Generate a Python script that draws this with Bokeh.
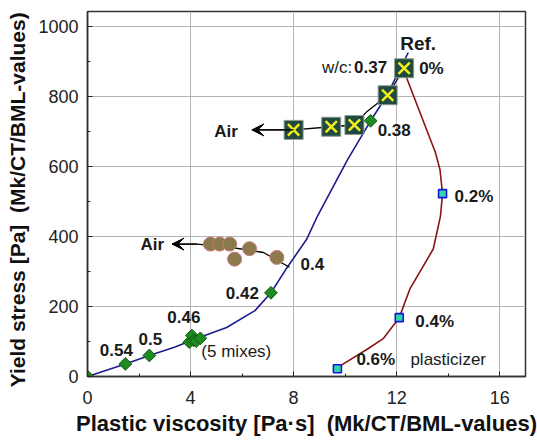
import numpy as np
from bokeh.plotting import figure
from bokeh.models import (Range1d, SingleIntervalTicker, Arrow, VeeHead, FixedTicker)
from bokeh.core.properties import value
from bokeh.embed import file_html
from bokeh.resources import INLINE

FONT = "Liberation Sans"

# ---- data ----
# w/c series (green diamonds) and blue fitted line
wc_labels = ["0", "0.54", "0.5", "0.46", "", "", "", "", "0.42", "0.38"]
wc_x = [0.0, 1.47, 2.40, 3.95, 4.05, 4.12, 4.22, 4.38, 7.12, 10.99]
wc_y = [0, 36, 60, 98, 117, 103, 101, 109, 239, 730]
blue_x = [0.0, 1.47, 2.40, 3.4, 4.1, 5.4, 6.5, 7.12, 7.7, 8.5, 8.9, 10.1, 10.99, 11.6, 12.45]
blue_y = [0, 36, 60, 84, 105, 140, 188, 239, 306, 391, 454, 620, 730, 800, 925]

# air series at w/c 0.37 (square-x markers)
air37_x = [12.29, 11.65, 10.36, 9.46, 8.0]
air37_y = [880, 803, 718, 713, 704]
air37_line_x = [12.29, 11.65, 10.84, 10.36, 9.46, 8.0, 6.38]
air37_line_y = [880, 803, 756, 718, 713, 704, 704]

# air series at w/c 0.4 (brown circles)
air40_x = [4.77, 5.13, 5.52, 5.71, 6.29, 7.35]
air40_y = [378, 378, 378, 335, 365, 340]
air40_line_x = [7.84, 6.83, 5.54, 4.25, 3.28]
air40_line_y = [312, 354, 369, 378, 378]

# plasticizer series (small squares) and red line
plast_labels = ["0.2%", "0.4%", "0.6%"]
plast_x = [13.78, 12.10, 9.70]
plast_y = [522, 168, 22]
red_x = [12.29, 12.4, 12.96, 13.5, 13.68, 13.78, 13.70, 13.42, 12.52, 12.10, 11.49, 10.9, 9.87, 9.70]
red_y = [880, 850, 743, 640, 591, 522, 458, 364, 251, 168, 109, 80, 33, 22]

x_ticks = [0, 4, 8, 12, 16]
y_ticks = [0, 200, 400, 600, 800, 1000]
x_title = "Plastic viscosity [Pa\u00b7s]\u00a0\u00a0(Mk/CT/BML-values)"
y_title = "Yield stress [Pa]\u00a0\u00a0(Mk/CT/BML-values)\u00a0\u00a0"

# ---- figure ----
p = figure(width=537, height=438, output_backend="svg", toolbar_location=None,
           x_range=Range1d(0, 17), y_range=Range1d(0, 1042),
           min_border_left=87, min_border_right=12, min_border_top=11, min_border_bottom=60)
p.background_fill_color = "white"
p.border_fill_color = "white"
p.outline_line_color = "#333333"
p.outline_line_width = 1.5

p.xaxis.ticker = SingleIntervalTicker(interval=4, num_minor_ticks=2)
p.yaxis.ticker = SingleIntervalTicker(interval=200, num_minor_ticks=2)
p.xgrid.ticker = FixedTicker(ticks=x_ticks)
p.ygrid.ticker = FixedTicker(ticks=y_ticks)
for g in (p.xgrid, p.ygrid):
    g.grid_line_color = "#b4b4b4"
    g.grid_line_width = 1

for ax in (p.xaxis, p.yaxis):
    ax.axis_line_color = "#333333"
    ax.axis_line_width = 1.5
    ax.major_tick_in = 5
    ax.major_tick_out = 0
    ax.minor_tick_in = 3
    ax.minor_tick_out = 0
    ax.major_tick_line_color = "#222222"
    ax.minor_tick_line_color = "#222222"
    ax.major_label_text_font = FONT
    ax.major_label_text_font_size = "18px"
    ax.major_label_text_color = "#222222"
    ax.axis_label_text_font = FONT
    ax.axis_label_text_font_style = "bold"
    ax.axis_label_text_color = "#111111"

p.xaxis.axis_label = x_title
p.yaxis.axis_label = y_title
p.xaxis.axis_label_text_font_size = "22px"
p.yaxis.axis_label_text_font_size = "21px"
p.xaxis.major_label_standoff = 14
p.xaxis.axis_label_standoff = 4
p.yaxis.major_label_standoff = 9
p.yaxis.axis_label_standoff = 6

# ---- lines ----
p.line(blue_x, blue_y, line_color="#1c1c8f", line_width=1.6)
p.line(red_x, red_y, line_color="#8b1414", line_width=1.6)
p.line(air37_line_x, air37_line_y, line_color="black", line_width=1.3)
p.line(air40_line_x, air40_line_y, line_color="black", line_width=1.3)

for lx, ly in ((air37_line_x, air37_line_y), (air40_line_x, air40_line_y)):
    p.add_layout(Arrow(end=VeeHead(size=12, fill_color="black", line_color="black", line_width=1),
                       x_start=lx[-2], y_start=ly[-2], x_end=lx[-1], y_end=ly[-1],
                       line_color="black", line_width=1.3))

# ---- markers ----
p.scatter(wc_x, wc_y, marker="square", angle=np.pi / 4, size=9,
          fill_color="#1f8a1f", line_color="#0d5a0d", line_width=1)
p.scatter(air40_x, air40_y, marker="circle", size=14,
          fill_color="#8b7a4c", line_color="#c47a7a", line_width=1)
p.scatter(air37_x, air37_y, marker="square", size=19,
          fill_color="#1f4a3d", line_color="#8e9c8e", line_width=1)
p.scatter(air37_x, air37_y, marker="x", size=16,
          line_color="#f2ee1e", line_width=2.5)
p.scatter(plast_x, plast_y, marker="square", size=8,
          fill_color="#2fd8a0", line_color="#1414e6", line_width=1.6)

# ---- labels ----
def label(x, y, text, dx, dy, align="left", bold=True, size="17px", color="#1a1a1a"):
    p.text([x], [y], text=[text], x_offset=dx, y_offset=dy,
           text_align=align, text_baseline="middle",
           text_font=value(FONT), text_font_size=size,
           text_font_style="bold" if bold else "normal", text_color=color)

label(wc_x[1], wc_y[1], wc_labels[1], -9, -14, align="center")
label(wc_x[2], wc_y[2], wc_labels[2], 1, -16, align="center")
label(wc_x[4], wc_y[4], wc_labels[3], -8, -19, align="center")
label(wc_x[7], wc_y[7], "(5 mixes)", 1, 13, bold=False)
label(wc_x[8], wc_y[8], wc_labels[8], -12, 0, align="right")
label(wc_x[9], wc_y[9], wc_labels[9], 7, 9)
label(air40_line_x[0], air40_line_y[0], "0.4", 11, -3)
label(air40_line_x[-1], air40_line_y[-1], "Air", -8, 0, align="right")
label(air37_line_x[-1], air37_line_y[-1], "Air", -14, 2, align="right")
label(air37_x[0], air37_y[0], "0%", 15, 0)
label(air37_x[0], air37_y[0], "0.37", -17, -1, align="right")
label(air37_x[0], air37_y[0], "w/c:", -52, -1, align="right", bold=False)
label(air37_x[0], air37_y[0], "Ref.", 14, -25, align="center", size="19px")
label(plast_x[0], plast_y[0], plast_labels[0], 12, 3)
label(plast_x[1], plast_y[1], plast_labels[1], 16, 4)
label(plast_x[2], plast_y[2], plast_labels[2], 19, -9)
label(plast_x[2], plast_y[2], "plasticizer", 73, -9, bold=False)

open("out.html", "w").write(file_html(p, INLINE))
